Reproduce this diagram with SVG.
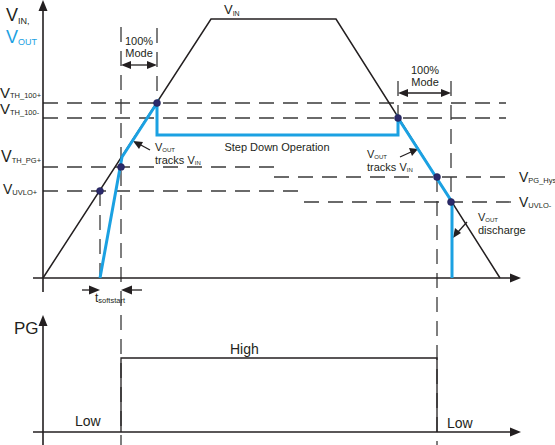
<svg xmlns="http://www.w3.org/2000/svg" width="555" height="445" viewBox="0 0 555 445">
<style>
text{font-family:"Liberation Sans",Arial,sans-serif;fill:#231f20}
.axis{stroke:#231f20;stroke-width:1.6;fill:none}
.vin{stroke:#231f20;stroke-width:1.5;fill:none}
.vout{stroke:#1ba1e2;stroke-width:3;fill:none;stroke-linejoin:miter}
.dash{stroke:#3a3a3a;stroke-width:1.3;stroke-dasharray:15 9;fill:none}
.thin{stroke:#231f20;stroke-width:1.3;fill:none}
.dot{fill:#2b2a6b;stroke:#1a1a4a;stroke-width:0.5}
.head{fill:#231f20}
.pg{stroke:#231f20;stroke-width:1.3;fill:none}
</style>
<rect width="555" height="445" fill="#ffffff"/>

<g id="connectors">
  <line class="dash" x1="43" y1="103" x2="506" y2="103"/>
  <line class="dash" x1="43" y1="118" x2="506" y2="118"/>
  <line class="dash" x1="43" y1="167" x2="276" y2="167"/>
  <line class="dash" x1="274" y1="177" x2="514" y2="177"/>
  <line class="dash" x1="43" y1="191" x2="305" y2="191"/>
  <line class="dash" x1="304" y1="202" x2="512" y2="202"/>
  <line class="dash" x1="121" y1="27" x2="121" y2="445"/>
  <line class="dash" x1="157" y1="28" x2="157" y2="100"/>
  <line class="dash" x1="100" y1="191" x2="100" y2="278"/>
  <line class="dash" x1="398" y1="81" x2="398" y2="118"/>
  <line class="dash" x1="451" y1="81" x2="451" y2="202"/>
  <line class="dash" x1="437" y1="177" x2="437" y2="445"/>

  <line class="thin" x1="128" y1="65" x2="150" y2="65"/>
  <polygon class="head" points="121,65 131,61 131,69"/>
  <polygon class="head" points="157,65 147,61 147,69"/>
  <line class="thin" x1="405" y1="93" x2="444" y2="93"/>
  <polygon class="head" points="398,93 408,89 408,97"/>
  <polygon class="head" points="451,93 441,89 441,97"/>

  <line class="thin" x1="82" y1="290" x2="92" y2="290"/>
  <polygon class="head" points="100,290 89,285.5 89,294.5"/>
  <line class="thin" x1="130" y1="290" x2="142" y2="290"/>
  <polygon class="head" points="121,290 132,285.5 132,294.5"/>

  <line class="thin" x1="150" y1="150" x2="139" y2="144"/>
  <polygon class="head" points="133,141 143,142 139,149"/>
  <line class="thin" x1="400" y1="157" x2="411" y2="152"/>
  <polygon class="head" points="418,149 409,148 412,156"/>
  <line class="thin" x1="467" y1="222" x2="458" y2="232"/>
  <polygon class="head" points="453,238 455,228 461,233"/>
</g>

<g id="axes-top">
  <line class="axis" x1="43" y1="292" x2="43" y2="8"/>
  <polygon class="head" points="43,0 38.5,11 47.5,11"/>
  <line class="axis" x1="33" y1="278" x2="512" y2="278"/>
  <polygon class="head" points="521,278 510,273.5 510,282.5"/>
</g>

<g id="vin">
  <polyline class="vin" points="43,278 211,19 336,19 500,278"/>
</g>

<g id="vout">
  <polyline class="vout" points="100,278 122,157 157,103 157,135 398,135 398,118 452,202 452,278"/>
</g>

<g id="dots">
  <circle class="dot" cx="157" cy="103" r="3.5"/>
  <circle class="dot" cx="100" cy="191" r="3.5"/>
  <circle class="dot" cx="121" cy="167" r="3.5"/>
  <circle class="dot" cx="398" cy="118" r="3.5"/>
  <circle class="dot" cx="437" cy="177" r="3.5"/>
  <circle class="dot" cx="451" cy="202" r="3.5"/>
</g>

<g id="labels-left">
  <text x="6" y="21" font-size="18">V<tspan font-size="9" dy="3">IN,</tspan></text>
  <text x="6" y="43" font-size="18" style="fill:#1ba1e2">V<tspan font-size="9" dy="2" style="fill:#1ba1e2">OUT</tspan></text>
  <text x="0" y="98" font-size="15">V<tspan font-size="7.5" dy="0">TH_100+</tspan></text>
  <text x="0" y="114" font-size="15">V<tspan font-size="7.5" dy="1">TH_100-</tspan></text>
  <text x="1" y="162" font-size="16">V<tspan font-size="7.5" dy="1">TH_PG+</tspan></text>
  <text x="3" y="194" font-size="14">V<tspan font-size="7.5" dy="1">UVLO+</tspan></text>
</g>

<g id="labels-right">
  <text x="519" y="182" font-size="14">V<tspan font-size="7.5" dy="1">PG_Hys</tspan></text>
  <text x="519" y="207" font-size="14">V<tspan font-size="7.5" dy="1">UVLO-</tspan></text>
</g>

<g id="label-vin-top">
  <text x="224" y="14" font-size="13">V<tspan font-size="7" dy="2">IN</tspan></text>
</g>

<g id="mode-left">
  <text x="139" y="45" font-size="11" text-anchor="middle">100%</text>
  <text x="139" y="57" font-size="11" text-anchor="middle">Mode</text>
</g>
<g id="mode-right">
  <text x="425" y="74" font-size="11" text-anchor="middle">100%</text>
  <text x="425" y="86" font-size="11" text-anchor="middle">Mode</text>
</g>

<g id="step-down">
  <text x="277" y="151" font-size="11" text-anchor="middle">Step Down Operation</text>
</g>

<g id="tracks-left">
  <text x="155" y="151" font-size="11">V<tspan font-size="6" dy="1">OUT</tspan></text>
  <text x="155" y="164" font-size="11">tracks V<tspan font-size="6" dy="1">IN</tspan></text>
</g>
<g id="tracks-right">
  <text x="367" y="158" font-size="11">V<tspan font-size="6" dy="1">OUT</tspan></text>
  <text x="367" y="171" font-size="11">tracks V<tspan font-size="6" dy="1">IN</tspan></text>
</g>
<g id="discharge">
  <text x="478" y="221" font-size="11">V<tspan font-size="6" dy="1">OUT</tspan></text>
  <text x="478" y="234" font-size="11">discharge</text>
</g>

<g id="softstart">
  <text x="95" y="302" font-size="12">t<tspan font-size="7.5" dy="1">softstart</tspan></text>
</g>

<g id="pg-chart">
  <line class="axis" x1="43" y1="445" x2="43" y2="323"/>
  <polygon class="head" points="43,315 38.5,326 47.5,326"/>
  <line class="axis" x1="33" y1="432" x2="512" y2="432"/>
  <polygon class="head" points="521,432 510,427.5 510,436.5"/>
  <polyline class="pg" points="121,432 121,358 437,358 437,432"/>
  <text x="14" y="334" font-size="17">PG</text>
  <text x="230" y="354" font-size="14">High</text>
  <text x="75" y="426" font-size="14">Low</text>
  <text x="447" y="428" font-size="14">Low</text>
</g>
</svg>
